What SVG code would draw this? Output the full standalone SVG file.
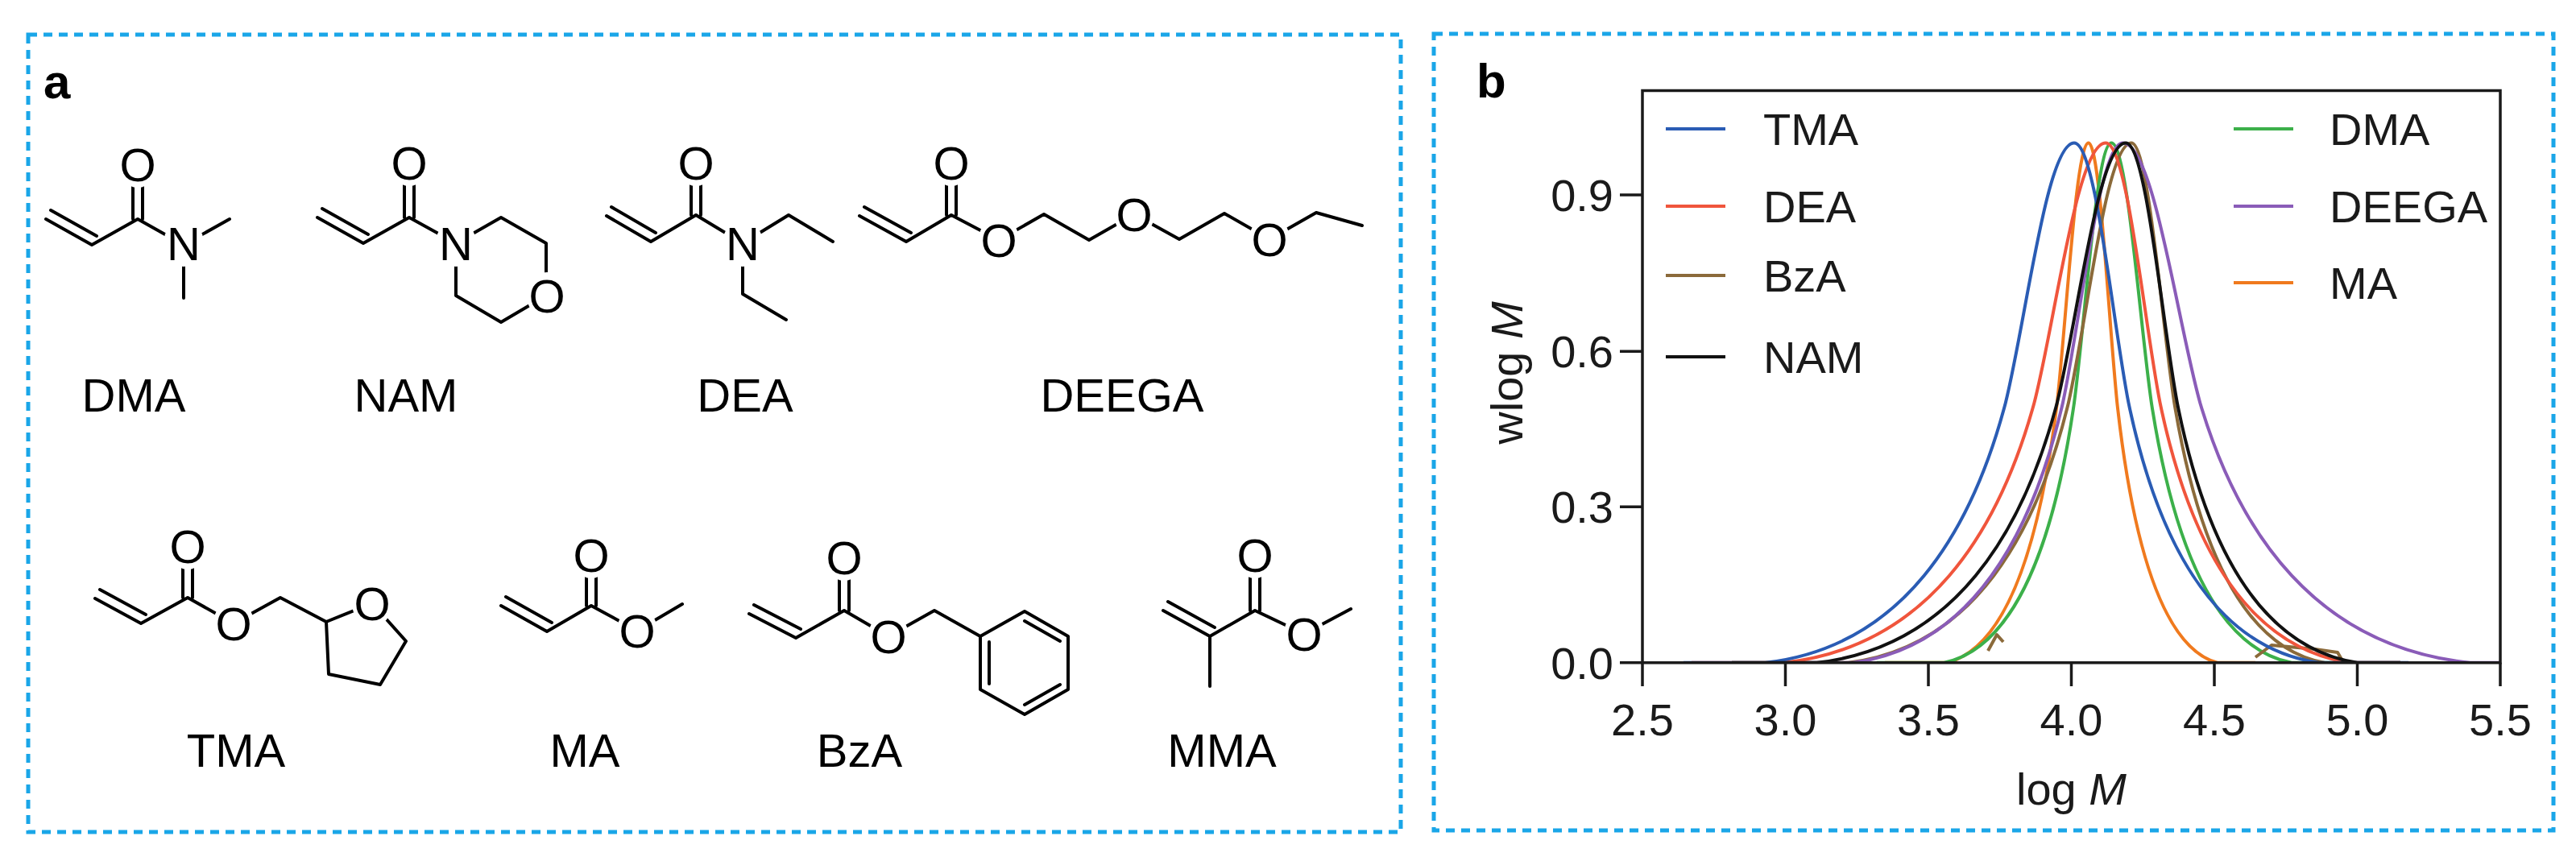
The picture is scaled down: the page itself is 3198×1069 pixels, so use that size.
<svg xmlns="http://www.w3.org/2000/svg" width="3198" height="1069" viewBox="0 0 3198 1069">
<style>
.frame{fill:none;stroke:#1aa6e8;stroke-width:5;stroke-dasharray:11 8}
.b{fill:none;stroke:#000;stroke-width:4;stroke-linecap:round;stroke-linejoin:round}
.h{fill:#fff;stroke:none}
.at{font-family:"Liberation Sans",Arial,sans-serif;font-size:58px;text-anchor:middle;fill:#000}
.lbl{font-family:"Liberation Sans",Arial,sans-serif;font-size:58px;text-anchor:middle;fill:#000}
.pl{font-family:"Liberation Sans",Arial,sans-serif;font-size:60px;font-weight:bold;fill:#000}
.tk{font-family:"Liberation Sans",Arial,sans-serif;font-size:56px;fill:#1a1a1a}
.ax{fill:none;stroke:#1a1a1a;stroke-width:3.5}
.c{fill:none;stroke-width:4;stroke-linejoin:round}
</style>
<defs><ellipse id="hole" class="h" cx="0" cy="0" rx="25" ry="29"/></defs>
<rect class="frame" x="35" y="43" width="1704" height="990"/>
<rect class="frame" x="1780" y="42" width="1390" height="989"/>
<text class="pl" x="54" y="122">a</text>
<text class="pl" x="1833" y="121">b</text>

<g id="DMA">
<path class="b" d="M57,272 L114,304 M63,261 L120,293 M114,304 L171,272 L228,304 L285,272 M165,272 L165,204 M177,272 L177,204 M228,304 L228,370"/>
<use href="#hole" x="171" y="204"/><use href="#hole" x="228" y="302"/>
<text class="at" x="171" y="225">O</text><text class="at" x="228" y="323">N</text>
<text class="lbl" x="166" y="511">DMA</text>
</g>
<g id="NAM">
<path class="b" d="M394,270 L451,302 M400,259 L457,291 M451,302 L508,270 L566,302 L622,270 L678,302 L678,367 L622,400 L566,367 L566,302 M502,270 L502,202 M514,270 L514,202"/>
<use href="#hole" x="508" y="202"/><use href="#hole" x="566" y="302"/><use href="#hole" x="679" y="367"/>
<text class="at" x="508" y="223">O</text><text class="at" x="566" y="323">N</text><text class="at" x="679" y="388">O</text>
<text class="lbl" x="504" y="511">NAM</text>
</g>
<g id="DEA">
<path class="b" d="M753,268 L808,300 M759,257 L814,289 M808,300 L864,267 L922,302 L979,267 L1034,300 M922,302 L922,365 L976,397 M858,267 L858,202 M870,267 L870,202"/>
<use href="#hole" x="864" y="202"/><use href="#hole" x="922" y="302"/>
<text class="at" x="864" y="223">O</text><text class="at" x="922" y="323">N</text>
<text class="lbl" x="925" y="511">DEA</text>
</g>
<g id="DEEGA">
<path class="b" d="M1067,268 L1125,300 M1073,257 L1131,289 M1125,300 L1181,267 L1240,298 L1296,266 L1352,298 L1408,266 L1464,297 L1520,265 L1576,297 L1634,264 L1691,280 M1175,267 L1175,202 M1187,267 L1187,202"/>
<use href="#hole" x="1181" y="202"/><use href="#hole" x="1240" y="298"/><use href="#hole" x="1408" y="266"/><use href="#hole" x="1576" y="297"/>
<text class="at" x="1181" y="223">O</text><text class="at" x="1240" y="319">O</text><text class="at" x="1408" y="287">O</text><text class="at" x="1576" y="318">O</text>
<text class="lbl" x="1393" y="511">DEEGA</text>
</g>
<g id="TMA">
<path class="b" d="M118,743 L175,774 M124,732 L181,763 M175,774 L233,742 L290,774 L348,742 L405,772 L462,749 L504,796 L472,850 L408,837 L405,772 M227,742 L227,678 M239,742 L239,678"/>
<use href="#hole" x="233" y="678"/><use href="#hole" x="290" y="774"/><use href="#hole" x="462" y="749"/>
<text class="at" x="233" y="699">O</text><text class="at" x="290" y="795">O</text><text class="at" x="462" y="770">O</text>
<text class="lbl" x="293" y="952">TMA</text>
</g>
<g id="MA">
<path class="b" d="M622,752 L679,784 M628,741 L685,773 M679,784 L734,752 L791,783 L847,750 M728,752 L728,689 M740,752 L740,689"/>
<use href="#hole" x="734" y="689"/><use href="#hole" x="791" y="783"/>
<text class="at" x="734" y="710">O</text><text class="at" x="791" y="804">O</text>
<text class="lbl" x="726" y="952">MA</text>
</g>
<g id="BzA">
<path class="b" d="M930,762 L988,792 M936,751 L994,781 M988,792 L1048,758 L1103,790 L1160,758 L1217,790 L1272,759 L1326,790 L1326,856 L1272,887 L1217,856 L1217,790 M1228,797 L1228,849 M1272,771 L1316,796 M1272,875 L1316,850 M1042,758 L1042,692 M1054,758 L1054,692"/>
<use href="#hole" x="1048" y="692"/><use href="#hole" x="1103" y="790"/>
<text class="at" x="1048" y="713">O</text><text class="at" x="1103" y="811">O</text>
<text class="lbl" x="1067" y="952">BzA</text>
</g>
<g id="MMA">
<path class="b" d="M1444,758 L1502,790 M1450,747 L1508,779 M1502,790 L1558,758 L1619,787 L1677,756 M1502,790 L1502,852 M1552,758 L1552,689 M1564,758 L1564,689"/>
<use href="#hole" x="1558" y="689"/><use href="#hole" x="1619" y="787"/>
<text class="at" x="1558" y="710">O</text><text class="at" x="1619" y="808">O</text>
<text class="lbl" x="1517" y="952">MMA</text>
</g>

<g id="chart">
<clipPath id="pc"><rect x="2039" y="100" width="1065" height="723.5"/></clipPath>
<g clip-path="url(#pc)">
<path class="c" stroke="#f07a1e" d="M2340,822.8 L2417.1,822.8 C2495.2,803.4 2534.2,661.5 2553.8,500.2 C2565.5,396.9 2577.2,177.5 2592.8,177.5 C2607,177.5 2617.7,396.9 2628.3,500.2 C2646.1,661.5 2681.6,803.4 2752.6,822.8 L2800,822.8"/>
<path class="c" stroke="#3cb04a" d="M2330,822.8 L2413.5,822.8 C2505.8,803.4 2552,661.5 2575,500.2 C2588.9,396.9 2602.7,177.5 2621.2,177.5 C2641.1,177.5 2656,396.9 2670.9,500.2 C2695.8,661.5 2745.5,803.4 2844.9,822.8 L2900,822.8"/>
<path class="c" stroke="#8b6a3a" d="M2240,822.8 L2294.6,822.8 C2450.8,803.4 2528.9,661.5 2567.9,500.2 C2591.3,396.9 2614.8,177.5 2646,177.5 C2667.3,177.5 2683.3,396.9 2699.3,500.2 C2725.9,661.5 2779.1,803.4 2885.6,822.8 M2468,808 L2479,788 L2487,797 M2800,816 L2820,801 L2874,806 L2902,810 L2909,822"/>
<path class="c" stroke="#8a5cb8" d="M2200,822.8 L2300,822.8 C2449,803.4 2523.6,661.5 2560.9,500.2 C2583.2,396.9 2605.6,177.5 2635.4,177.5 C2673.7,177.5 2702.5,396.9 2731.3,500.2 C2779.2,661.5 2875,803.4 3066.7,822.8 L3104,822.8"/>
<path class="c" stroke="#f0553c" d="M2100,822.8 L2214.7,822.8 C2392.2,803.4 2481,661.5 2525.4,500.2 C2552,396.9 2578.6,177.5 2614.1,177.5 C2641.1,177.5 2661.3,396.9 2681.6,500.2 C2715.3,661.5 2782.7,803.4 2917.6,822.8 L2980,822.8"/>
<path class="c" stroke="#2a5cb4" d="M2090,822.8 L2191.6,822.8 C2362,803.4 2447.2,661.5 2489.8,500.2 C2515.4,396.9 2540.9,177.5 2575,177.5 C2602,177.5 2622.2,396.9 2642.5,500.2 C2676.2,661.5 2743.6,803.4 2878.5,822.8 L2990,822.8"/>
<path class="c" stroke="#111" stroke-width="3" d="M2150,822.8 L2255.6,822.8 C2426,803.4 2511.2,661.5 2553.8,500.2 C2579.4,396.9 2604.9,177.5 2639,177.5 C2664.6,177.5 2683.7,396.9 2702.9,500.2 C2734.9,661.5 2798.8,803.4 2926.6,822.8 L2980,822.8"/>
</g>
<rect class="ax" x="2039" y="112.5" width="1065" height="710.3"/>
<path class="ax" d="M2011,822.8 H2039 M2011,629.2 H2039 M2011,436.3 H2039 M2011,242 H2039 M2039,822.8 V852 M2216.5,822.8 V852 M2394,822.8 V852 M2571.5,822.8 V852 M2749,822.8 V852 M2926.5,822.8 V852 M3104,822.8 V852"/>
<g class="tk" text-anchor="end">
<text x="2003" y="843">0.0</text><text x="2003" y="649">0.3</text><text x="2003" y="456">0.6</text><text x="2003" y="262">0.9</text>
</g>
<g class="tk" text-anchor="middle">
<text x="2039" y="913">2.5</text><text x="2216.5" y="913">3.0</text><text x="2394" y="913">3.5</text><text x="2571.5" y="913">4.0</text><text x="2749" y="913">4.5</text><text x="2926.5" y="913">5.0</text><text x="3104" y="913">5.5</text>
<text x="2571.5" y="999">log <tspan font-style="italic">M</tspan></text>
<text transform="translate(1890,463) rotate(-90)">wlog <tspan font-style="italic">M</tspan></text>
</g>
<g id="legend">
<path class="c" stroke="#2a5cb4" d="M2068,160 H2142"/>
<path class="c" stroke="#f0553c" d="M2068,256 H2142"/>
<path class="c" stroke="#8b6a3a" d="M2068,342 H2142"/>
<path class="c" stroke="#111" stroke-width="3" d="M2068,443 H2142"/>
<path class="c" stroke="#3cb04a" d="M2773,160 H2847"/>
<path class="c" stroke="#8a5cb8" d="M2773,256 H2847"/>
<path class="c" stroke="#f07a1e" d="M2773,351 H2847"/>
<g class="tk">
<text x="2189" y="180">TMA</text><text x="2189" y="276">DEA</text><text x="2189" y="362">BzA</text><text x="2189" y="463">NAM</text>
<text x="2892" y="180">DMA</text><text x="2892" y="276">DEEGA</text><text x="2892" y="371">MA</text>
</g>
</g>
</g>
</svg>
